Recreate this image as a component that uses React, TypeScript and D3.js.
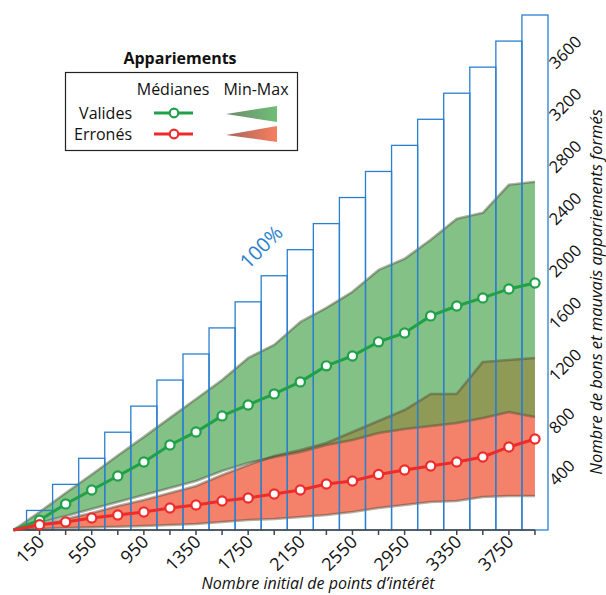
import React from 'react';
import * as d3 from 'd3';

const xValues = [150, 350, 550, 750, 950, 1150, 1350, 1550, 1750, 1950, 2150, 2350, 2550, 2750, 2950, 3150, 3350, 3550, 3750, 3950];
const fullMatches = [150, 350, 550, 750, 950, 1150, 1350, 1550, 1750, 1950, 2150, 2350, 2550, 2750, 2950, 3150, 3350, 3550, 3750, 3950];
const validMedian = [75, 200, 307, 414, 522, 652, 752, 875, 959, 1044, 1136, 1259, 1335, 1443, 1511, 1642, 1718, 1780, 1849, 1895];
const errMedian = [40, 61, 92, 115, 138, 169, 192, 223, 246, 276, 307, 353, 376, 426, 460, 491, 522, 560, 637, 698];
const validMax = [138, 284, 426, 571, 714, 860, 1005, 1150, 1320, 1420, 1596, 1704, 1827, 1995, 2080, 2226, 2387, 2433, 2648, 2671];
const validMin = [54, 107, 161, 215, 268, 322, 376, 453, 514, 560, 598, 652, 690, 744, 775, 798, 821, 859, 905, 867];
const errMax = [38, 84, 130, 184, 230, 284, 337, 422, 499, 568, 614, 667, 752, 836, 920, 1043, 1043, 1289, 1304, 1319];
const errMin = [8, 15, 20, 25, 31, 38, 46, 61, 77, 84, 100, 115, 138, 169, 192, 215, 223, 253, 261, 261];
const xTickLabels = [150, 550, 950, 1350, 1750, 2150, 2550, 2950, 3350, 3750];
const yTickLabels = [400, 800, 1200, 1600, 2000, 2400, 2800, 3200, 3600];
const originX = -50;

const W = 606, H = 595;
const FONT = '"Open Sans", "Noto Sans", sans-serif';
const x = d3.scaleLinear().domain([-50, 4050]).range([13.5, 548]);
const y = d3.scaleLinear().domain([0, 3950]).range([530, 15]);

type P = { x: number; lo: number; hi: number };
const band = (lo: number[], hi: number[]): P[] => [
  { x: originX, lo: 0, hi: 0 },
  ...xValues.map((v, i) => ({ x: v, lo: lo[i], hi: hi[i] })),
];
type M = { x: number; v: number };
const med = (vals: number[]): M[] => [{ x: originX, v: 0 }, ...xValues.map((v, i) => ({ x: v, v: vals[i] }))];

const area = d3.area<P>().x(d => x(d.x)).y0(d => y(d.lo)).y1(d => y(d.hi));
const edgeLo = d3.line<P>().x(d => x(d.x)).y(d => y(d.lo));
const edgeHi = d3.line<P>().x(d => x(d.x)).y(d => y(d.hi));
const medLine = d3.line<M>().x(d => x(d.x)).y(d => y(d.v));

const GREEN_FILL = '#83c186';
const RED_FILL = '#f4826a';
const OLIVE = '#8e9a56';
const EDGE = 'rgba(70,70,50,0.42)';
const GREEN = '#1fa049';
const RED = '#ee2b2b';
const BLUE = '#2a7fcf';

export default function App() {
  const vBand = band(validMin, validMax);
  const eBand = band(errMin, errMax);
  const vMed = med(validMedian);
  const eMed = med(errMedian);
  return (
    <svg width={W} height={H} style={{ position: 'absolute', left: 0, top: 0, background: '#fff' }}
      fontFamily={FONT}>
      <defs>
        <clipPath id="greenClip">
          <path d={area(vBand) || ''} />
        </clipPath>
        <linearGradient id="gTri" x1="0" x2="1" y1="0" y2="0">
          <stop offset="0" stopColor="#6d8a6f" />
          <stop offset="1" stopColor="#6fbf76" />
        </linearGradient>
        <linearGradient id="rTri" x1="0" x2="1" y1="0" y2="0">
          <stop offset="0" stopColor="#a5665a" />
          <stop offset="1" stopColor="#f87e60" />
        </linearGradient>
      </defs>

      {/* min-max bands */}
      <path d={area(vBand) || ''} fill={GREEN_FILL} />
      <path d={area(eBand) || ''} fill={RED_FILL} />
      <path d={area(eBand) || ''} fill={OLIVE} clipPath="url(#greenClip)" />
      {[vBand, eBand].map((b, i) => (
        <g key={i} fill="none" stroke={EDGE} strokeWidth={2.6} strokeLinejoin="round">
          <path d={edgeHi(b) || ''} />
          <path d={edgeLo(b) || ''} />
        </g>
      ))}

      {/* 100% bars */}
      <g fill="none" stroke={BLUE} strokeWidth={1.3}>
        {xValues.map((v, i) => (
          <rect key={v} x={x(v - 100)} width={x(v + 100) - x(v - 100)} y={y(fullMatches[i])}
            height={y(0) - y(fullMatches[i])} />
        ))}
      </g>
      <text transform={`translate(${x(1850)},${y(2170)}) rotate(-45)`} textAnchor="middle" dy="0.35em"
        fontSize={20} fill={BLUE}>100%</text>

      {/* x axis */}
      <g stroke="#444" strokeWidth={1.5}>
        <line x1={x(originX)} x2={x(3950)} y1={y(0)} y2={y(0)} />
        {xValues.map(v => (
          <line key={v} x1={x(v)} x2={x(v)} y1={y(0)} y2={y(0) + 5} />
        ))}
      </g>
      {xTickLabels.map(v => (
        <text key={v} transform={`translate(${x(v) + 6},${y(0) + 13}) rotate(-45)`} textAnchor="end"
          fontSize={18} fill="#111">{v}</text>
      ))}
      <text x={318} y={589} textAnchor="middle" fontSize={16} fontStyle="italic" fill="#111">
        Nombre initial de points d’intérêt
      </text>

      {/* y axis labels */}
      {yTickLabels.map(v => (
        <text key={v} transform={`translate(556,${y(v) + 9}) rotate(-45)`} textAnchor="start"
          fontSize={16.5} fill="#111">{v}</text>
      ))}
      <text transform={`translate(602,292) rotate(-90)`} textAnchor="middle" fontSize={16.5}
        fontStyle="italic" fill="#111">Nombre de bons et mauvais appariements formés</text>

      {/* medians */}
      <path d={medLine(vMed) || ''} fill="none" stroke={GREEN} strokeWidth={3} />
      <path d={medLine(eMed) || ''} fill="none" stroke={RED} strokeWidth={3} />
      {vMed.slice(1).map(d => (
        <circle key={d.x} cx={x(d.x)} cy={y(d.v)} r={4.6} fill="#fff" stroke={GREEN} strokeWidth={2.2} />
      ))}
      {eMed.slice(1).map(d => (
        <circle key={d.x} cx={x(d.x)} cy={y(d.v)} r={4.6} fill="#fff" stroke={RED} strokeWidth={2.2} />
      ))}

      {/* legend */}
      <text x={180} y={64} textAnchor="middle" fontSize={16} fontWeight="bold" fill="#111">Appariements</text>
      <rect x={65.5} y={72.5} width={232} height={78} fill="#fff" stroke="#222" strokeWidth={1.2} />
      <text x={173} y={95} textAnchor="middle" fontSize={16} fill="#111">Médianes</text>
      <text x={256} y={95} textAnchor="middle" fontSize={16} fill="#111">Min-Max</text>
      <text x={132} y={119} textAnchor="end" fontSize={16} fill="#111">Valides</text>
      <text x={132} y={140} textAnchor="end" fontSize={16} fill="#111">Erronés</text>
      <line x1={154} x2={193} y1={113} y2={113} stroke={GREEN} strokeWidth={3} />
      <circle cx={174} cy={113} r={4.3} fill="#fff" stroke={GREEN} strokeWidth={2.2} />
      <line x1={154} x2={193} y1={134} y2={134} stroke={RED} strokeWidth={3} />
      <circle cx={174} cy={134} r={4.3} fill="#fff" stroke={RED} strokeWidth={2.2} />
      <path d="M226,114 L277,106 L277,122 Z" fill="url(#gTri)" />
      <path d="M226,135 L277,126 L277,142 Z" fill="url(#rTri)" />
    </svg>
  );
}
